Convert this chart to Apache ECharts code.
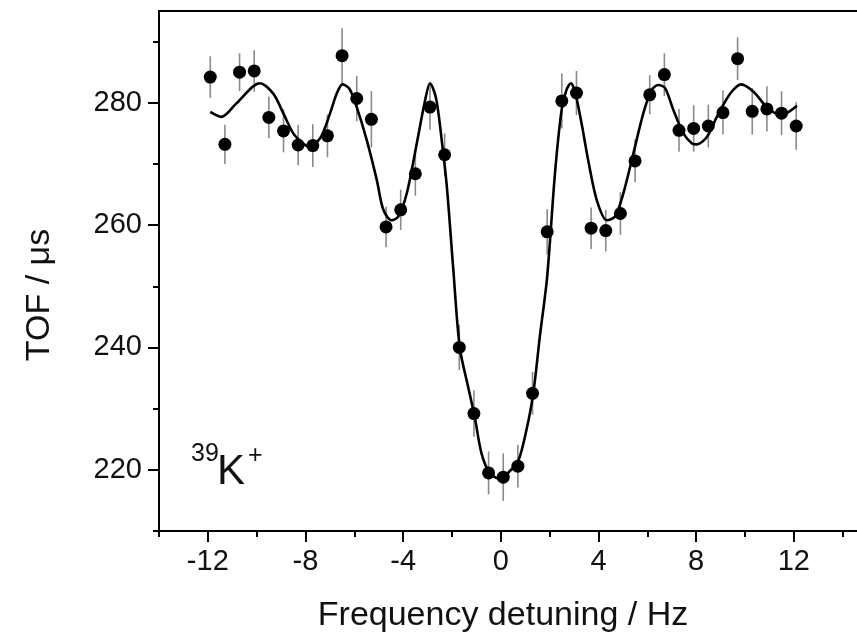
<!DOCTYPE html>
<html>
<head>
<meta charset="utf-8">
<title>TOF resonance</title>
<script src="https://cdn.jsdelivr.net/npm/echarts@6/dist/echarts.min.js"></script>
<style>
	html, body { margin: 0; padding: 0; background: #fff; }
	#chart { width: 857px; height: 634px; }
</style>
</head>
<body>
<div id="chart"></div>
<script>
	// measured points (frequency detuning / Hz, TOF / us, error)
	var freq = [-11.9, -11.3, -10.7, -10.1, -9.5, -8.9, -8.3, -7.7, -7.1, -6.5, -5.9, -5.3, -4.7, -4.1, -3.5, -2.9, -2.3, -1.7, -1.1, -0.5,
		0.1, 0.7, 1.3, 1.9, 2.5, 3.1, 3.7, 4.3, 4.9, 5.5, 6.1, 6.7, 7.3, 7.9, 8.5, 9.1, 9.7, 10.3, 10.9, 11.5, 12.1]
	var tof = [284.2, 273.2, 285.0, 285.2, 277.6, 275.4, 273.1, 273.0, 274.6, 287.7, 280.7, 277.3, 259.7, 262.5, 268.4, 279.3, 271.5, 240.0, 229.2, 219.5,
		218.8, 220.6, 232.5, 258.9, 280.3, 281.6, 259.5, 259.1, 261.9, 270.5, 281.3, 284.6, 275.5, 275.8, 276.2, 278.4, 287.2, 278.6, 279.0, 278.3, 276.2]
	var tofErr = [3.4, 3.2, 3.1, 3.4, 3.4, 3.5, 3.3, 3.5, 3.5, 4.5, 3.7, 4.6, 3.3, 3.3, 3.6, 3.7, 3.5, 3.7, 3.8, 3.5,
		3.9, 3.5, 3.5, 3.7, 4.5, 3.6, 3.4, 3.4, 3.5, 3.5, 3.2, 3.5, 3.5, 3.8, 3.5, 3.6, 3.5, 3.8, 3.7, 3.6, 3.9]

	// fit curve
	var fitX = [-11.9, -11.45, -10.83, -9.87, -9.32, -8.91, -8.5, -8.09, -7.88, -7.4, -6.99, -6.72, -6.48, -6.2, -5.9, -5.49, -5.08, -4.81, -4.47, -4.2,
		-3.85, -3.44, -3.1, -2.9, -2.65, -2.42, -2.21, -1.95, -1.68, -1.34, -1.07, -0.79, -0.45, 0.03, 0.3, 0.71, 1.05, 1.33, 1.6, 1.9,
		2.22, 2.49, 2.69, 2.87, 3.04, 3.31, 3.58, 3.93, 4.34, 4.68, 5.02, 5.43, 5.84, 6.18, 6.45, 6.73, 7.07, 7.48, 7.82, 8.03,
		8.44, 8.85, 9.4, 9.85, 10.35, 10.9, 11.44, 11.72, 12.13]
	var fitY = [278.5, 277.7, 279.9, 283.2, 281.5, 278.3, 275.0, 273.3, 272.9, 274.2, 278.3, 281.5, 283.0, 282.3, 279.3, 273.9, 267.4, 262.5, 260.8, 261.4,
		265.2, 273.4, 280.4, 283.2, 280.7, 273.9, 266.3, 253.0, 240.0, 233.6, 228.7, 222.7, 219.5, 218.4, 219.5, 221.4, 226.5, 232.5, 241.8, 251.6,
		268.5, 278.8, 282.1, 283.2, 281.8, 276.6, 270.6, 264.1, 260.8, 261.4, 265.2, 271.7, 278.3, 282.1, 282.9, 282.4, 278.8, 275.0, 273.4, 273.2,
		274.4, 277.7, 281.5, 283.0, 281.8, 279.3, 278.0, 278.3, 279.5]

	// tick positions
	var xTicks = [-12, -8, -4, 0, 4, 8, 12]
	var xMinorTicks = [-14, -10, -6, -2, 2, 6, 10, 14]
	var yTicks = [220, 240, 260, 280]
	var yMinorTicks = [210, 230, 250, 270, 290]

	var font = 'Liberation Sans, Arial, sans-serif'
	var chart = echarts.init(document.getElementById('chart'))

	var points = freq.map(function (f, i) { return [f, tof[i]] })
	var bars = freq.map(function (f, i) { return [f, tof[i], tofErr[i]] })
	var fit = fitX.map(function (f, i) { return [f, fitY[i]] })

	var axisLineStyle = { color: '#000', width: 2 }

	var option = {
		animation: false,
		backgroundColor: '#fff',
		grid: {
			left: 159,
			top: 11,
			right: -10, // right edge runs past the canvas, as in the cropped figure
			bottom: 103,
			outerBoundsMode: 'none',
			show: true,
			borderColor: '#000',
			borderWidth: 2
		},
		xAxis: [{
			type: 'value',
			min: -14,
			max: 15,
			position: 'bottom',
			axisLine: { show: true, onZero: false, lineStyle: axisLineStyle },
			axisTick: { show: true, customValues: xTicks, length: 11, lineStyle: axisLineStyle },
			axisLabel: {
				customValues: xTicks,
				fontSize: 29,
				fontFamily: font,
				color: '#111',
				margin: 16
			},
			splitLine: { show: false }
		}, {
			// minor ticks only
			type: 'value',
			min: -14,
			max: 15,
			position: 'bottom',
			axisLine: { show: false, onZero: false },
			axisTick: { show: true, customValues: xMinorTicks, length: 6, lineStyle: axisLineStyle },
			axisLabel: { show: false },
			splitLine: { show: false }
		}],
		yAxis: [{
			type: 'value',
			min: 210,
			max: 295,
			position: 'left',
			axisLine: { show: true, onZero: false, lineStyle: axisLineStyle },
			axisTick: { show: true, customValues: yTicks, length: 11, lineStyle: axisLineStyle },
			axisLabel: {
				customValues: yTicks,
				fontSize: 29,
				fontFamily: font,
				color: '#111',
				margin: 17
			},
			splitLine: { show: false }
		}, {
			type: 'value',
			min: 210,
			max: 295,
			position: 'left',
			axisLine: { show: false, onZero: false },
			axisTick: { show: true, customValues: yMinorTicks, length: 6, lineStyle: axisLineStyle },
			axisLabel: { show: false },
			splitLine: { show: false }
		}],
		graphic: [{
			type: 'text',
			x: 503,
			y: 616,
			style: { text: 'Frequency detuning / Hz', font: '34px ' + font, fill: '#111', align: 'center', verticalAlign: 'middle' }
		}, {
			type: 'text',
			x: 40,
			y: 295,
			rotation: Math.PI / 2,
			style: { text: 'TOF / μs', font: '34px ' + font, fill: '#111', align: 'center', verticalAlign: 'middle' }
		}, {
			type: 'text',
			x: 191,
			y: 454,
			style: { text: '39', font: '25px ' + font, fill: '#111', align: 'left', verticalAlign: 'middle' }
		}, {
			type: 'text',
			x: 217,
			y: 472,
			style: { text: 'K', font: '42px ' + font, fill: '#111', align: 'left', verticalAlign: 'middle' }
		}, {
			type: 'text',
			x: 248,
			y: 456,
			style: { text: '+', font: '25px ' + font, fill: '#111', align: 'left', verticalAlign: 'middle' }
		}],
		series: [{
			// error bars
			type: 'custom',
			z: 1,
			data: bars,
			renderItem: function (params, api) {
				var top = api.coord([api.value(0), api.value(1) + api.value(2)])
				var bot = api.coord([api.value(0), api.value(1) - api.value(2)])
				return {
					type: 'line',
					shape: { x1: top[0], y1: top[1], x2: bot[0], y2: bot[1] },
					style: { stroke: '#8a8a8a', lineWidth: 1.6 }
				}
			}
		}, {
			type: 'line',
			z: 2,
			data: fit,
			showSymbol: false,
			smooth: 0.3,
			lineStyle: { color: '#000', width: 2.6 }
		}, {
			type: 'scatter',
			z: 3,
			data: points,
			symbol: 'circle',
			symbolSize: 13,
			itemStyle: { color: '#000', opacity: 1 }
		}]
	}

	chart.setOption(option)
</script>
</body>
</html>
